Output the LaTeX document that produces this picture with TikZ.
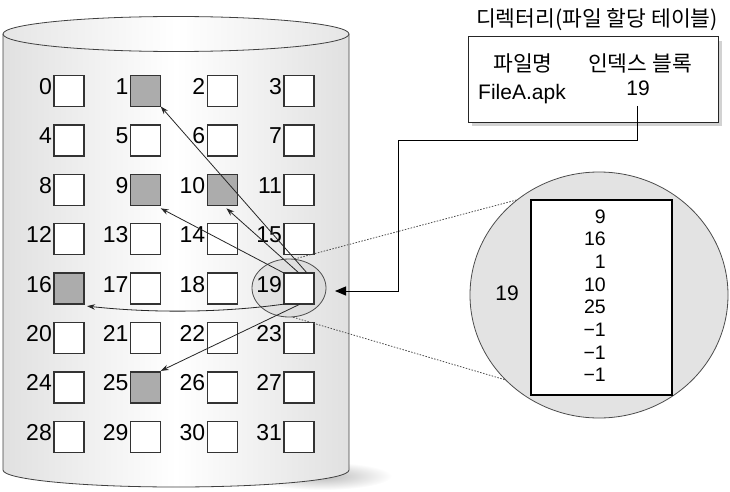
\documentclass[tikz,border=0pt]{standalone}
\usepackage{fontspec}
\setmainfont{Liberation Sans}
\newfontfamily\kofont{Noto Sans CJK KR}
\usetikzlibrary{arrows.meta,shapes.geometric}
\begin{document}
\begin{tikzpicture}[x=1pt,y=-1pt,
  blk/.style={draw=black!80, line width=1.3pt, fill=white, minimum width=30pt, minimum height=31pt, inner sep=0pt, outer sep=0pt},
  num/.style={font=\fontsize{23}{23}\selectfont, inner sep=0pt, anchor=base east},
  lst/.style={font=\fontsize{19.5}{19.5}\selectfont, inner sep=0pt, anchor=base east},
  ko/.style={font=\kofont\fontsize{21.5}{21.5}\selectfont, inner sep=0pt},
  ptr/.style={draw=black!85, line width=0.8pt, -{Stealth[length=8pt,width=5.5pt]}},
  dots/.style={draw=black!70, line width=0.8pt, dash pattern=on 1.5pt off 1.5pt}
  ]
\useasboundingbox (0,0) rectangle (730,492);

% cylinder shadow and body
\shade[inner color=gray!55, outer color=white] (322,476) ellipse [x radius=70, y radius=14];
\path[left color=gray!24, right color=gray!24, middle color=white, draw=black!75, line width=0.8pt]
  (3,34) -- (3,470) .. controls (3,479.4) and (80.5,487) .. (176,487)
  .. controls (271.5,487) and (349,479.4) .. (349,470) -- (349,34);
\path[left color=gray!20, right color=gray!20, middle color=white, draw=black!75, line width=0.8pt]
  (176,34) ellipse [x radius=173, y radius=17.5];

% highlight ellipse around block 19
\node[ellipse, draw=black!70, line width=0.8pt, fill=gray!40, fill opacity=0.35, draw opacity=1,
  minimum width=74pt, minimum height=58pt, inner sep=0pt] (zsrc) at (289,288) {};

% blocks
\foreach \i in {0,...,31} {
  \pgfmathtruncatemacro\cc{mod(\i,4)}
  \pgfmathtruncatemacro\rr{div(\i,4)}
  \node[blk] (b\i) at ({69+76.7*\cc},{91+49.4*\rr}) {};
  \node[num] (l\i) at ([xshift=-2pt,yshift=-3.5pt]b\i.west) {\i};
}
\foreach \i in {1,9,10,16,25}
  \path[fill=gray!65, draw=black!80, line width=1.3pt] (b\i.south west) rectangle (b\i.north east);

% pointers from index block 19
\draw[ptr] ([xshift=8pt]b19.north) -- (b1.south east);
\draw[ptr] (b19.north) -- ([xshift=4pt,yshift=-3pt]b10.south);
\draw[ptr] (b19.north west) -- ([yshift=-3pt]b9.south east);
\draw[ptr] (b19.south west) .. controls (220,313) and (150,313) .. ([xshift=3pt,yshift=-2pt]b16.south east);
\draw[ptr] ([xshift=1pt]b19.south) -- ([yshift=1pt]b25.north east);

% directory table
\fill[gray!35] (472,41) rectangle (722,126);
\node[draw=black!85, line width=1pt, fill=white, minimum width=250pt, minimum height=85pt, inner sep=0pt] (tab) at (593,79.5) {};
\node[ko] (title) at (597,20) {디렉터리(파일 할당 테이블)};
\node[ko] (h1) at (523,63) {파일명};
\node[ko] (h2) at (640,63) {인덱스 블록};
\node[font=\fontsize{21}{21}\selectfont, inner sep=0pt] (fname) at (522,94) {FileA.apk};
\node[font=\fontsize{21}{21}\selectfont, inner sep=0pt] (fidx) at (638,88) {19};

% connector from table to block 19
\coordinate (c0) at (637,106);
\coordinate (bend) at (398,140);
\coordinate (tip) at (335,291);
\draw[black, line width=1pt, -{Triangle[length=11pt,width=9pt]}] (c0) |- (bend) |- (tip);

% magnified view
\node[ellipse, draw=black!70, fill=gray!22, line width=0.8pt, minimum width=258pt, minimum height=246pt, inner sep=0pt] (zoom) at (599,295) {};
\draw[dots] (zsrc.79) -- (zoom.131);
\draw[dots] (zsrc.278) -- (zoom.222);
\node[draw=black, line width=1.2pt, fill=white, minimum width=141pt, minimum height=195pt, inner sep=0pt] (ib) at (601.5,297.5) {};
\foreach \v [count=\k from 0] in {9,16,1,10,25,−1,−1,−1}
  \node[lst] (v\k) at (606,{223+22.7*\k}) {\v};
\node[font=\fontsize{21}{21}\selectfont, inner sep=0pt] (zl) at (507,293) {19};
\end{tikzpicture}
\end{document}
